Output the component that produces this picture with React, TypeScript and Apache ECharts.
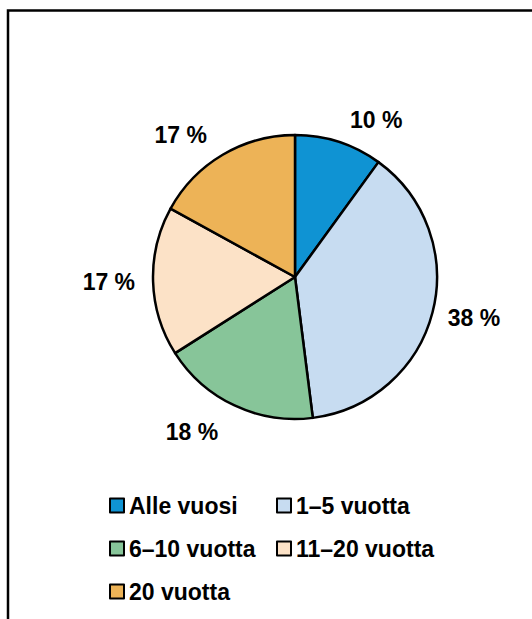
import React, { useEffect, useRef } from "react";
import * as echarts from "echarts";

const categories = ["Alle vuosi", "1–5 vuotta", "6–10 vuotta", "11–20 vuotta", "20 vuotta"];
const shares = [10, 38, 18, 17, 17];
const colors = ["#0F93D3", "#C7DCF1", "#87C599", "#FCE2C7", "#EDB357"];
const legendCol1 = ["Alle vuosi", "6–10 vuotta", "20 vuotta"];
const legendCol2 = ["1–5 vuotta", "11–20 vuotta"];
// small nudges of the outside labels (style, not data)
const labelLen = [23, 23, 29, 23, 23];
const labelLen2 = [0, -11, 0, -9, 0];

const FONT = '"Liberation Sans", Arial, sans-serif';

export default function App() {
  const ref = useRef<HTMLDivElement>(null);
  useEffect(() => {
    document.body.style.margin = "0";
    if (!ref.current) return;
    const chart = echarts.init(ref.current, undefined, { renderer: "svg" });
    const legendBase = {
      orient: "vertical",
      itemWidth: 14,
      itemHeight: 14,
      itemGap: 20,
      padding: 0,
      icon: "rect",
      selectedMode: false,
      textStyle: { fontSize: 23, fontWeight: "bold", color: "#000", fontFamily: FONT, lineHeight: 23 },
    };
    chart.setOption({
      animation: false,
      backgroundColor: "#fff",
      graphic: [
        {
          type: "rect",
          shape: { x: 8, y: 10.5, width: 700, height: 800 },
          style: { fill: "none", stroke: "#000", lineWidth: 2.5 },
          silent: true,
        },
      ],
      legend: [
        { ...legendBase, data: legendCol1, left: 109, top: 494 },
        { ...legendBase, data: legendCol2, left: 276, top: 494 },
      ],
      series: [
        {
          type: "pie",
          center: [295, 277],
          radius: [0, 142],
          startAngle: 90,
          clockwise: true,
          avoidLabelOverlap: false,
          itemStyle: { borderColor: "#000", borderWidth: 2.5 },
          label: {
            show: true,
            position: "outside",
            formatter: "{c} %",
            fontSize: 23,
            fontWeight: "bold",
            color: "#000",
            fontFamily: FONT,
            distanceToLabelLine: 4,
          },
          labelLine: { show: false, length: 23, length2: 0 },
          emphasis: { disabled: true },
          data: categories.map((name, i) => ({
            name,
            value: shares[i],
            itemStyle: { color: colors[i] },
            labelLine: { show: false, length: labelLen[i], length2: labelLen2[i] },
          })),
        },
      ],
    });
    return () => chart.dispose();
  }, []);
  return <div ref={ref} style={{ width: 532, height: 619 }} />;
}
